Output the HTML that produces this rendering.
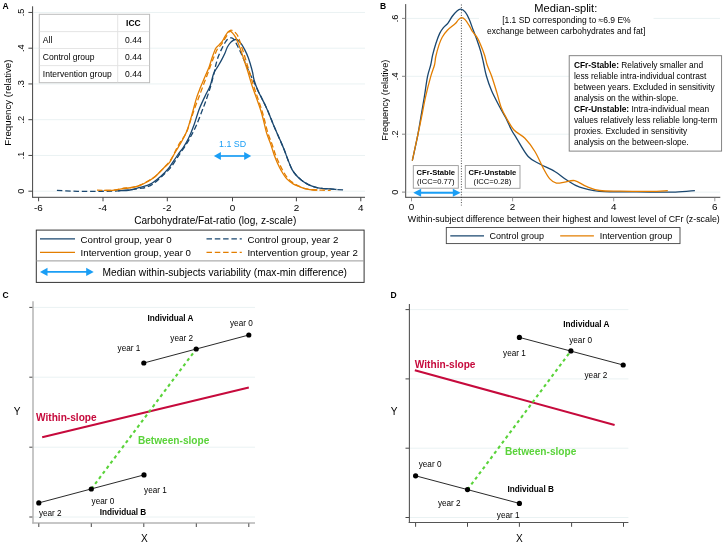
<!DOCTYPE html>
<html><head><meta charset="utf-8">
<style>
html,body{margin:0;padding:0;background:#fff;}
body{width:723px;height:545px;overflow:hidden;}
svg{display:block;font-family:"Liberation Sans",sans-serif;will-change:transform;}
text{fill:#000;}
.pl{font-weight:bold;font-size:8.5px;fill:#000;}
.plc{font-weight:bold;font-size:8.5px;fill:#000;}
.tk{font-size:9.2px;}
.tkx{font-size:9.9px;}
.t10{font-size:10.1px;}
.t96{font-size:9.7px;}
.t91{font-size:9.1px;}
.t84{font-size:8.37px;}
.lg9{font-size:9px;}
.t11{font-size:11.1px;}
.t88{font-size:8.85px;}
.t85{font-size:8.5px;}
.t8{font-size:7.65px;}
.t8b{font-size:7.6px;font-weight:bold;}
.bd{font-weight:bold;}
.tb{font-size:8.5px;font-weight:bold;fill:#000;}
.tt{font-size:8.55px;}
.lg{font-size:9.7px;}
.lg2{font-size:10.2px;}
.ib{font-size:8.2px;font-weight:bold;fill:#000;}
.yr{font-size:8.2px;}
.sl{font-size:10.15px;font-weight:bold;}
.ax{stroke:#444;stroke-width:1;}
</style></head>
<body>
<svg width="723" height="545" viewBox="0 0 723 545">
<rect width="723" height="545" fill="#fff"/>
<text x="2.6" y="9.1" class="pl">A</text>
<line x1="33.6" y1="191.20" x2="365" y2="191.20" stroke="#eaf2f3" stroke-width="1"/>
<line x1="33.6" y1="155.45" x2="365" y2="155.45" stroke="#eaf2f3" stroke-width="1"/>
<line x1="33.6" y1="119.70" x2="365" y2="119.70" stroke="#eaf2f3" stroke-width="1"/>
<line x1="33.6" y1="83.95" x2="365" y2="83.95" stroke="#eaf2f3" stroke-width="1"/>
<line x1="33.6" y1="48.20" x2="365" y2="48.20" stroke="#eaf2f3" stroke-width="1"/>
<line x1="33.6" y1="12.45" x2="365" y2="12.45" stroke="#eaf2f3" stroke-width="1"/>
<line x1="32.60" y1="6.30" x2="32.60" y2="197.80" class="ax"/>
<line x1="32.60" y1="197.30" x2="365.00" y2="197.30" class="ax"/>
<line x1="28.4" y1="191.20" x2="32.60" y2="191.20" class="ax"/>
<text transform="translate(24.3 191.20) rotate(-90)" class="tk" text-anchor="middle">0</text>
<line x1="28.4" y1="155.45" x2="32.60" y2="155.45" class="ax"/>
<text transform="translate(24.3 155.45) rotate(-90)" class="tk" text-anchor="middle">.1</text>
<line x1="28.4" y1="119.70" x2="32.60" y2="119.70" class="ax"/>
<text transform="translate(24.3 119.70) rotate(-90)" class="tk" text-anchor="middle">.2</text>
<line x1="28.4" y1="83.95" x2="32.60" y2="83.95" class="ax"/>
<text transform="translate(24.3 83.95) rotate(-90)" class="tk" text-anchor="middle">.3</text>
<line x1="28.4" y1="48.20" x2="32.60" y2="48.20" class="ax"/>
<text transform="translate(24.3 48.20) rotate(-90)" class="tk" text-anchor="middle">.4</text>
<line x1="28.4" y1="12.45" x2="32.60" y2="12.45" class="ax"/>
<text transform="translate(24.3 12.45) rotate(-90)" class="tk" text-anchor="middle">.5</text>
<line x1="38.60" y1="197.30" x2="38.60" y2="201.3" class="ax"/>
<text x="38.30" y="210.8" class="tkx" text-anchor="middle">-6</text>
<line x1="103.00" y1="197.30" x2="103.00" y2="201.3" class="ax"/>
<text x="102.70" y="210.8" class="tkx" text-anchor="middle">-4</text>
<line x1="167.30" y1="197.30" x2="167.30" y2="201.3" class="ax"/>
<text x="167.00" y="210.8" class="tkx" text-anchor="middle">-2</text>
<line x1="232.50" y1="197.30" x2="232.50" y2="201.3" class="ax"/>
<text x="232.50" y="210.8" class="tkx" text-anchor="middle">0</text>
<line x1="296.40" y1="197.30" x2="296.40" y2="201.3" class="ax"/>
<text x="296.40" y="210.8" class="tkx" text-anchor="middle">2</text>
<line x1="360.80" y1="197.30" x2="360.80" y2="201.3" class="ax"/>
<text x="360.80" y="210.8" class="tkx" text-anchor="middle">4</text>
<text x="215.2" y="223.6" class="t10" text-anchor="middle">Carbohydrate/Fat-ratio (log, z-scale)</text>
<text transform="translate(10.6 102.6) rotate(-90)" class="t96" text-anchor="middle">Frequency (relative)</text>
<path d="M56.90 190.40 C59.20 190.52 66.08 190.93 70.70 191.10 C75.32 191.27 79.98 191.37 84.60 191.40 C89.22 191.43 93.80 191.35 98.40 191.30 C103.00 191.25 107.58 191.28 112.20 191.10 C116.82 190.92 121.48 190.65 126.10 190.20 C130.72 189.75 136.73 188.83 139.90 188.40 C143.07 187.97 142.95 188.32 145.10 187.60 C147.25 186.88 150.02 185.97 152.80 184.10 C155.58 182.23 158.80 179.18 161.80 176.40 C164.80 173.62 168.02 170.83 170.80 167.40 C173.58 163.97 175.92 159.65 178.50 155.80 C181.08 151.95 184.15 147.72 186.30 144.30 C188.45 140.88 189.70 138.52 191.40 135.30 C193.10 132.08 194.77 128.97 196.50 125.00 C198.23 121.03 200.27 115.45 201.80 111.50 C203.33 107.55 204.20 105.58 205.70 101.30 C207.20 97.02 209.30 90.95 210.80 85.80 C212.30 80.65 213.87 73.87 214.70 70.40 C215.53 66.93 215.20 67.32 215.80 65.00 C216.40 62.68 217.33 59.15 218.30 56.50 C219.27 53.85 220.37 51.58 221.60 49.10 C222.83 46.62 224.45 43.40 225.70 41.60 C226.95 39.80 228.12 38.92 229.10 38.30 C230.08 37.68 230.78 37.70 231.60 37.90 C232.42 38.10 233.03 38.20 234.00 39.50 C234.97 40.80 236.28 43.55 237.40 45.70 C238.52 47.85 239.60 50.03 240.70 52.40 C241.80 54.77 242.95 57.47 244.00 59.90 C245.05 62.33 245.92 64.48 247.00 67.00 C248.08 69.52 249.33 72.50 250.50 75.00 C251.67 77.50 252.73 79.33 254.00 82.00 C255.27 84.67 256.77 88.22 258.10 91.00 C259.43 93.78 260.72 96.13 262.00 98.70 C263.28 101.27 264.52 103.62 265.80 106.40 C267.08 109.18 268.42 112.30 269.70 115.40 C270.98 118.50 271.77 120.88 273.50 125.00 C275.23 129.12 278.33 136.02 280.10 140.10 C281.87 144.18 282.77 146.15 284.10 149.50 C285.43 152.85 286.77 156.85 288.10 160.20 C289.43 163.55 290.75 167.10 292.10 169.60 C293.45 172.10 294.63 173.43 296.20 175.20 C297.77 176.97 299.62 178.72 301.50 180.20 C303.38 181.68 305.38 183.00 307.50 184.10 C309.62 185.20 311.85 186.08 314.20 186.80 C316.55 187.52 318.98 188.05 321.60 188.40 C324.22 188.75 327.42 188.72 329.90 188.90 C332.38 189.08 333.88 189.33 336.50 189.50 C339.12 189.67 344.08 189.83 345.60 189.90" fill="none" stroke="#1a476f" stroke-width="1.3" stroke-dasharray="5.5 2.8"/>
<path d="M118.00 190.80 C120.00 190.67 126.33 190.58 130.00 190.00 C133.67 189.42 136.62 188.28 140.00 187.30 C143.38 186.32 146.87 185.92 150.30 184.10 C153.73 182.28 157.60 178.97 160.60 176.40 C163.60 173.83 165.52 172.18 168.30 168.70 C171.08 165.22 174.73 159.15 177.30 155.50 C179.87 151.85 181.78 149.75 183.70 146.80 C185.62 143.85 187.08 141.43 188.80 137.80 C190.52 134.17 192.25 129.80 194.00 125.00 C195.75 120.20 197.35 114.03 199.30 109.00 C201.25 103.97 203.88 98.67 205.70 94.80 C207.52 90.93 208.92 89.22 210.20 85.80 C211.48 82.38 212.35 77.18 213.40 74.30 C214.45 71.42 215.62 70.05 216.50 68.50 C217.38 66.95 217.85 66.43 218.70 65.00 C219.55 63.57 220.57 61.87 221.60 59.90 C222.63 57.93 223.93 55.35 224.90 53.20 C225.87 51.05 226.43 48.80 227.40 47.00 C228.37 45.20 229.60 43.58 230.70 42.40 C231.80 41.22 233.17 40.38 234.00 39.90 C234.83 39.42 235.00 39.42 235.70 39.50 C236.40 39.58 237.23 39.63 238.20 40.40 C239.17 41.17 240.40 42.52 241.50 44.10 C242.60 45.68 243.68 47.68 244.80 49.90 C245.92 52.12 247.23 54.88 248.20 57.40 C249.17 59.92 249.88 62.57 250.60 65.00 C251.32 67.43 251.88 69.38 252.50 72.00 C253.12 74.62 253.37 77.53 254.30 80.70 C255.23 83.87 256.82 88.00 258.10 91.00 C259.38 94.00 260.72 96.13 262.00 98.70 C263.28 101.27 264.52 103.62 265.80 106.40 C267.08 109.18 268.42 112.30 269.70 115.40 C270.98 118.50 271.77 120.88 273.50 125.00 C275.23 129.12 278.33 136.02 280.10 140.10 C281.87 144.18 282.77 146.15 284.10 149.50 C285.43 152.85 286.77 156.85 288.10 160.20 C289.43 163.55 290.75 167.10 292.10 169.60 C293.45 172.10 294.63 173.43 296.20 175.20 C297.77 176.97 299.62 178.72 301.50 180.20 C303.38 181.68 305.38 183.00 307.50 184.10 C309.62 185.20 311.85 186.08 314.20 186.80 C316.55 187.52 318.98 188.05 321.60 188.40 C324.22 188.75 327.42 188.72 329.90 188.90 C332.38 189.08 335.40 189.40 336.50 189.50" fill="none" stroke="#1a476f" stroke-width="1.3"/>
<path d="M97.00 190.20 C99.53 190.22 108.05 190.57 112.20 190.30 C116.35 190.03 118.43 189.12 121.90 188.60 C125.37 188.08 129.98 187.77 133.00 187.20 C136.02 186.63 137.55 186.18 140.00 185.20 C142.45 184.22 145.13 182.80 147.70 181.30 C150.27 179.80 152.83 178.33 155.40 176.20 C157.97 174.07 160.53 171.25 163.10 168.50 C165.67 165.75 168.23 163.62 170.80 159.70 C173.37 155.78 175.92 149.50 178.50 145.00 C181.08 140.50 184.23 137.00 186.30 132.70 C188.37 128.40 189.38 123.58 190.90 119.20 C192.42 114.82 194.00 110.25 195.40 106.40 C196.80 102.55 198.02 99.53 199.30 96.10 C200.58 92.67 201.82 89.22 203.10 85.80 C204.38 82.38 205.72 79.07 207.00 75.60 C208.28 72.13 209.62 68.18 210.80 65.00 C211.98 61.82 213.00 59.15 214.10 56.50 C215.20 53.85 216.15 51.17 217.40 49.10 C218.65 47.03 220.22 46.05 221.60 44.10 C222.98 42.15 224.32 39.62 225.70 37.40 C227.08 35.18 228.85 31.97 229.90 30.80 C230.95 29.63 231.17 30.18 232.00 30.40 C232.83 30.62 233.87 31.07 234.90 32.10 C235.93 33.13 237.23 34.60 238.20 36.60 C239.17 38.60 239.73 41.20 240.70 44.10 C241.67 47.00 242.90 50.52 244.00 54.00 C245.10 57.48 246.38 62.00 247.30 65.00 C248.22 68.00 248.52 68.73 249.50 72.00 C250.48 75.27 251.87 80.37 253.20 84.60 C254.53 88.83 256.07 93.13 257.50 97.40 C258.93 101.67 260.63 106.43 261.80 110.20 C262.97 113.97 263.47 116.13 264.50 120.00 C265.53 123.87 266.75 129.38 268.00 133.40 C269.25 137.42 270.75 140.53 272.00 144.10 C273.25 147.67 274.33 151.67 275.50 154.80 C276.67 157.93 277.75 160.22 279.00 162.90 C280.25 165.58 281.45 168.23 283.00 170.90 C284.55 173.57 286.30 176.72 288.30 178.90 C290.30 181.08 292.38 182.43 295.00 184.00 C297.62 185.57 300.67 187.30 304.00 188.30 C307.33 189.30 312.00 189.68 315.00 190.00 C318.00 190.32 319.38 190.13 322.00 190.20 C324.62 190.27 329.25 190.37 330.70 190.40" fill="none" stroke="#e37e00" stroke-width="1.3" stroke-dasharray="5.5 2.8"/>
<path d="M104.00 190.40 C105.37 190.40 109.22 190.67 112.20 190.40 C115.18 190.13 118.43 189.30 121.90 188.80 C125.37 188.30 129.98 187.97 133.00 187.40 C136.02 186.83 137.55 186.38 140.00 185.40 C142.45 184.42 145.13 183.00 147.70 181.50 C150.27 180.00 152.83 178.53 155.40 176.40 C157.97 174.27 160.73 171.05 163.10 168.70 C165.47 166.35 167.88 164.50 169.60 162.30 C171.32 160.10 171.92 158.08 173.40 155.50 C174.88 152.92 176.78 149.75 178.50 146.80 C180.22 143.85 182.15 140.85 183.70 137.80 C185.25 134.75 186.28 132.88 187.80 128.50 C189.32 124.12 191.32 116.68 192.80 111.50 C194.28 106.32 195.40 101.47 196.70 97.40 C198.00 93.33 199.32 90.32 200.60 87.10 C201.88 83.88 203.12 81.10 204.40 78.10 C205.68 75.10 207.40 71.28 208.30 69.10 C209.20 66.92 209.10 67.10 209.80 65.00 C210.50 62.90 211.50 59.30 212.50 56.50 C213.50 53.70 214.70 50.13 215.80 48.20 C216.90 46.27 218.00 46.07 219.10 44.90 C220.20 43.73 221.43 42.58 222.40 41.20 C223.37 39.82 224.00 38.12 224.90 36.60 C225.80 35.08 226.97 33.00 227.80 32.10 C228.63 31.20 229.13 31.07 229.90 31.20 C230.67 31.33 231.43 31.87 232.40 32.90 C233.37 33.93 234.73 35.67 235.70 37.40 C236.67 39.13 237.37 41.22 238.20 43.30 C239.03 45.38 239.73 47.13 240.70 49.90 C241.67 52.67 243.17 57.38 244.00 59.90 C244.83 62.42 245.03 62.98 245.70 65.00 C246.37 67.02 247.00 68.73 248.00 72.00 C249.00 75.27 250.33 80.37 251.70 84.60 C253.07 88.83 254.70 93.13 256.20 97.40 C257.70 101.67 259.52 106.50 260.70 110.20 C261.88 113.90 262.30 115.73 263.30 119.60 C264.30 123.47 265.47 129.32 266.70 133.40 C267.93 137.48 269.47 140.53 270.70 144.10 C271.93 147.67 272.98 151.67 274.10 154.80 C275.22 157.93 276.18 160.22 277.40 162.90 C278.62 165.58 279.83 168.23 281.40 170.90 C282.97 173.57 284.78 176.70 286.80 178.90 C288.82 181.10 291.30 182.78 293.50 184.10 C295.70 185.42 298.08 186.05 300.00 186.80 C301.92 187.55 303.07 188.10 305.00 188.60 C306.93 189.10 309.53 189.57 311.60 189.80 C313.67 190.03 316.43 189.97 317.40 190.00" fill="none" stroke="#e37e00" stroke-width="1.3"/>
<text x="232.6" y="146.8" class="t88" text-anchor="middle" style="fill:#1a9ef5">1.1 SD</text>
<line x1="219.90" y1="156.00" x2="245.20" y2="156.00" stroke="#1a9ef5" stroke-width="1.70"/><path d="M213.90 156.00 L220.90 152.10 L220.90 159.90 Z" fill="#1a9ef5"/><path d="M251.20 156.00 L244.20 152.10 L244.20 159.90 Z" fill="#1a9ef5"/>
<rect x="39.3" y="14.3" width="110.3" height="68.4" fill="#fff" stroke="#bcbcbc" stroke-width="1"/>
<line x1="39.7" y1="31.6" x2="149.2" y2="31.6" stroke="#e2e2e2" stroke-width="0.9"/>
<line x1="39.7" y1="48.5" x2="149.2" y2="48.5" stroke="#e2e2e2" stroke-width="0.9"/>
<line x1="39.7" y1="65.6" x2="149.2" y2="65.6" stroke="#e2e2e2" stroke-width="0.9"/>
<line x1="117.7" y1="14.7" x2="117.7" y2="82.3" stroke="#e2e2e2" stroke-width="0.9"/>
<text x="133.4" y="26.3" class="tb" text-anchor="middle">ICC</text>
<text x="42.8" y="43.2" class="tt">All</text>
<text x="133.4" y="43.2" class="tt" text-anchor="middle">0.44</text>
<text x="42.8" y="60.2" class="tt">Control group</text>
<text x="133.4" y="60.2" class="tt" text-anchor="middle">0.44</text>
<text x="42.8" y="77.2" class="tt">Intervention group</text>
<text x="133.4" y="77.2" class="tt" text-anchor="middle">0.44</text>
<rect x="36.3" y="230.1" width="327.8" height="52.3" fill="none" stroke="#333" stroke-width="1"/>
<line x1="36.3" y1="260.9" x2="364.1" y2="260.9" stroke="#999" stroke-width="1"/>
<line x1="40" y1="238.8" x2="75" y2="238.8" stroke="#1a476f" stroke-width="1.2"/>
<line x1="40" y1="252.4" x2="75" y2="252.4" stroke="#e37e00" stroke-width="1.2"/>
<line x1="206.5" y1="238.8" x2="241.8" y2="238.8" stroke="#1a476f" stroke-width="1.2" stroke-dasharray="5.5 2.8"/>
<line x1="206.5" y1="252.4" x2="241.8" y2="252.4" stroke="#e37e00" stroke-width="1.2" stroke-dasharray="5.5 2.8"/>
<text x="80.6" y="242.6" class="lg">Control group, year 0</text>
<text x="80.6" y="256.1" class="lg">Intervention group, year 0</text>
<text x="247.4" y="242.6" class="lg">Control group, year 2</text>
<text x="247.4" y="256.1" class="lg">Intervention group, year 2</text>
<line x1="46.50" y1="271.90" x2="87.20" y2="271.90" stroke="#1a9ef5" stroke-width="1.90"/><path d="M40.00 271.90 L47.50 267.70 L47.50 276.10 Z" fill="#1a9ef5"/><path d="M93.70 271.90 L86.20 267.70 L86.20 276.10 Z" fill="#1a9ef5"/>
<text x="102.6" y="275.5" class="lg2">Median within-subjects variability (max-min difference)</text>
<text x="380.0" y="9.1" class="pl">B</text>
<line x1="406.7" y1="192.10" x2="720.0" y2="192.10" stroke="#eaf2f3" stroke-width="1"/>
<line x1="406.7" y1="134.20" x2="720.0" y2="134.20" stroke="#eaf2f3" stroke-width="1"/>
<line x1="406.7" y1="76.30" x2="720.0" y2="76.30" stroke="#eaf2f3" stroke-width="1"/>
<line x1="406.7" y1="18.40" x2="720.0" y2="18.40" stroke="#eaf2f3" stroke-width="1"/>
<line x1="405.70" y1="4.1" x2="405.70" y2="197.8" class="ax"/>
<line x1="405.70" y1="197.3" x2="720.3" y2="197.3" class="ax"/>
<line x1="402" y1="192.10" x2="405.30" y2="192.10" stroke="#888" stroke-width="1"/>
<text transform="translate(398.4 192.10) rotate(-90)" class="tk" text-anchor="middle">0</text>
<line x1="402" y1="134.20" x2="405.30" y2="134.20" stroke="#888" stroke-width="1"/>
<text transform="translate(398.4 134.20) rotate(-90)" class="tk" text-anchor="middle">.2</text>
<line x1="402" y1="76.30" x2="405.30" y2="76.30" stroke="#888" stroke-width="1"/>
<text transform="translate(398.4 76.30) rotate(-90)" class="tk" text-anchor="middle">.4</text>
<line x1="402" y1="18.40" x2="405.30" y2="18.40" stroke="#888" stroke-width="1"/>
<text transform="translate(398.4 18.40) rotate(-90)" class="tk" text-anchor="middle">.6</text>
<line x1="411.50" y1="197.8" x2="411.50" y2="201.3" stroke="#999" stroke-width="1"/>
<text x="411.50" y="209.8" class="tkx" text-anchor="middle">0</text>
<line x1="512.60" y1="197.8" x2="512.60" y2="201.3" stroke="#999" stroke-width="1"/>
<text x="512.60" y="209.8" class="tkx" text-anchor="middle">2</text>
<line x1="613.70" y1="197.8" x2="613.70" y2="201.3" stroke="#999" stroke-width="1"/>
<text x="613.70" y="209.8" class="tkx" text-anchor="middle">4</text>
<line x1="714.80" y1="197.8" x2="714.80" y2="201.3" stroke="#999" stroke-width="1"/>
<text x="714.80" y="209.8" class="tkx" text-anchor="middle">6</text>
<text x="563.8" y="221.9" class="t88" text-anchor="middle">Within-subject difference between their highest and lowest level of CFr (z-scale)</text>
<text transform="translate(387.6 100.2) rotate(-90)" class="t91" text-anchor="middle">Frequency (relative)</text>
<line x1="461.4" y1="4.5" x2="461.4" y2="205.5" stroke="#333" stroke-width="0.9" stroke-dasharray="1 1.6"/>
<path d="M412.30 160.70 C413.22 156.42 416.35 142.38 417.80 135.00 C419.25 127.62 419.92 122.72 421.00 116.40 C422.08 110.08 423.22 103.73 424.30 97.10 C425.38 90.47 426.43 81.95 427.50 76.60 C428.57 71.25 429.85 68.57 430.70 65.00 C431.55 61.43 431.75 58.75 432.60 55.20 C433.45 51.65 434.62 47.33 435.80 43.70 C436.98 40.07 438.42 36.08 439.70 33.40 C440.98 30.72 442.12 29.32 443.50 27.60 C444.88 25.88 446.50 25.03 448.00 23.10 C449.50 21.17 451.00 18.03 452.50 16.00 C454.00 13.97 455.62 12.03 457.00 10.90 C458.38 9.77 459.42 8.98 460.80 9.20 C462.18 9.42 463.90 10.52 465.30 12.20 C466.70 13.88 467.92 16.42 469.20 19.30 C470.48 22.18 471.72 26.08 473.00 29.50 C474.28 32.92 475.62 36.15 476.90 39.80 C478.18 43.45 479.63 47.70 480.70 51.40 C481.77 55.10 482.35 57.90 483.30 62.00 C484.25 66.10 485.02 71.20 486.40 76.00 C487.78 80.80 489.45 85.77 491.60 90.80 C493.75 95.83 496.95 101.70 499.30 106.20 C501.65 110.70 503.67 113.83 505.70 117.80 C507.73 121.77 509.68 126.58 511.50 130.00 C513.32 133.42 513.82 133.88 516.60 138.30 C519.38 142.72 524.33 152.22 528.20 156.50 C532.07 160.78 535.37 161.50 539.80 164.00 C544.23 166.50 550.37 168.87 554.80 171.50 C559.23 174.13 562.25 177.18 566.40 179.80 C570.55 182.42 574.17 185.27 579.70 187.20 C585.23 189.13 592.88 190.63 599.60 191.40 C606.32 192.17 611.60 191.70 620.00 191.80 C628.40 191.90 640.77 191.95 650.00 192.00 C659.23 192.05 667.92 192.33 675.40 192.10 C682.88 191.87 691.65 190.85 694.90 190.60" fill="none" stroke="#1a476f" stroke-width="1.3"/>
<path d="M412.30 160.70 C413.22 156.42 416.23 142.38 417.80 135.00 C419.37 127.62 420.42 122.72 421.70 116.40 C422.98 110.08 424.00 103.73 425.50 97.10 C427.00 90.47 429.20 81.95 430.70 76.60 C432.20 71.25 433.65 68.35 434.50 65.00 C435.35 61.65 435.05 59.85 435.80 56.50 C436.55 53.15 437.93 48.12 439.00 44.90 C440.07 41.68 440.80 39.65 442.20 37.20 C443.60 34.75 445.25 32.43 447.40 30.20 C449.55 27.97 453.28 25.52 455.10 23.80 C456.92 22.08 457.23 20.92 458.30 19.90 C459.37 18.88 460.33 17.70 461.50 17.70 C462.67 17.70 464.02 18.57 465.30 19.90 C466.58 21.23 468.02 23.77 469.20 25.70 C470.38 27.63 471.12 29.58 472.40 31.50 C473.68 33.42 475.52 34.97 476.90 37.20 C478.28 39.43 479.42 41.90 480.70 44.90 C481.98 47.90 483.52 51.85 484.60 55.20 C485.68 58.55 486.03 61.53 487.20 65.00 C488.37 68.47 490.02 71.48 491.60 76.00 C493.18 80.52 495.10 86.85 496.70 92.10 C498.30 97.35 499.60 103.22 501.20 107.50 C502.80 111.78 504.17 114.05 506.30 117.80 C508.43 121.55 510.90 126.58 514.00 130.00 C517.10 133.42 521.42 134.72 524.90 138.30 C528.38 141.88 531.85 146.53 534.90 151.50 C537.95 156.47 540.72 163.53 543.20 168.10 C545.68 172.67 547.60 176.40 549.80 178.90 C552.00 181.40 553.92 182.55 556.40 183.10 C558.88 183.65 561.65 182.62 564.70 182.20 C567.75 181.78 571.10 179.90 574.70 180.60 C578.30 181.30 582.15 184.75 586.30 186.40 C590.45 188.05 593.98 189.70 599.60 190.50 C605.22 191.30 611.60 191.05 620.00 191.20 C628.40 191.35 642.03 191.50 650.00 191.40 C657.97 191.30 664.83 190.73 667.80 190.60" fill="none" stroke="#e37e00" stroke-width="1.3"/>
<rect x="479" y="2" width="174.5" height="34" fill="#fff"/>
<text x="565.8" y="12.2" class="t11" text-anchor="middle">Median-split:</text>
<text x="566.4" y="23.0" class="t85" text-anchor="middle">[1.1 SD corresponding to ≈6.9 E%</text>
<text x="566.2" y="33.9" class="t85" text-anchor="middle">exchange between carbohydrates and fat]</text>
<rect x="569.2" y="55.7" width="152.4" height="95.4" fill="#fff" stroke="#777" stroke-width="0.9"/>
<text x="573.9" y="67.8" class="t84"><tspan class="bd">CFr-Stable:</tspan> Relatively smaller and</text>
<text x="573.9" y="78.8" class="t84">less reliable intra-individual contrast</text>
<text x="573.9" y="89.8" class="t84">between years. Excluded in sensitivity</text>
<text x="573.9" y="100.8" class="t84">analysis on the within-slope.</text>
<text x="573.9" y="111.8" class="t84"><tspan class="bd">CFr-Unstable:</tspan> Intra-individual mean</text>
<text x="573.9" y="122.8" class="t84">values relatively less reliable long-term</text>
<text x="573.9" y="133.8" class="t84">proxies. Excluded in sensitivity</text>
<text x="573.9" y="144.8" class="t84">analysis on the between-slope.</text>
<rect x="413.3" y="165.6" width="45" height="22.6" fill="#fff" stroke="#999" stroke-width="0.9"/>
<text x="435.8" y="175.1" class="t8b" text-anchor="middle">CFr-Stable</text>
<text x="435.8" y="184.0" class="t8" text-anchor="middle">(ICC=0.77)</text>
<rect x="465.3" y="165.5" width="54.7" height="22.8" fill="#fff" stroke="#999" stroke-width="0.9"/>
<text x="492.4" y="175.1" class="t8b" text-anchor="middle">CFr-Unstable</text>
<text x="492.4" y="184.0" class="t8" text-anchor="middle">(ICC=0.28)</text>
<line x1="420.10" y1="192.70" x2="453.80" y2="192.70" stroke="#1a9ef5" stroke-width="1.90"/><path d="M413.30 192.70 L421.10 188.70 L421.10 196.70 Z" fill="#1a9ef5"/><path d="M460.60 192.70 L452.80 188.70 L452.80 196.70 Z" fill="#1a9ef5"/>
<rect x="446.3" y="227.5" width="233.7" height="16.1" fill="none" stroke="#444" stroke-width="0.9"/>
<line x1="450.3" y1="235.8" x2="484" y2="235.8" stroke="#1a476f" stroke-width="1.2"/>
<line x1="560.2" y1="235.8" x2="593.9" y2="235.8" stroke="#e37e00" stroke-width="1.2"/>
<text x="489.6" y="239.1" class="lg9">Control group</text>
<text x="599.8" y="239.1" class="lg9">Intervention group</text>
<text x="2.5" y="297.9" class="plc">C</text>
<line x1="34" y1="307.4" x2="255" y2="307.4" stroke="#eaf2f3" stroke-width="1"/>
<line x1="29.3" y1="307.4" x2="33" y2="307.4" stroke="#333" stroke-width="0.9"/>
<line x1="34" y1="377.2" x2="255" y2="377.2" stroke="#eaf2f3" stroke-width="1"/>
<line x1="29.3" y1="377.2" x2="33" y2="377.2" stroke="#333" stroke-width="0.9"/>
<line x1="34" y1="447.2" x2="255" y2="447.2" stroke="#eaf2f3" stroke-width="1"/>
<line x1="29.3" y1="447.2" x2="33" y2="447.2" stroke="#333" stroke-width="0.9"/>
<line x1="34" y1="517.0" x2="255" y2="517.0" stroke="#eaf2f3" stroke-width="1"/>
<line x1="29.3" y1="517.0" x2="33" y2="517.0" stroke="#333" stroke-width="0.9"/>
<line x1="33" y1="301.2" x2="33" y2="523.5" stroke="#b4b4b4" stroke-width="1.5"/>
<line x1="32.3" y1="522.9" x2="255" y2="522.9" stroke="#b4b4b4" stroke-width="1.5"/>
<line x1="38.8" y1="523.4" x2="38.8" y2="527" stroke="#333" stroke-width="0.9"/>
<line x1="91.3" y1="523.4" x2="91.3" y2="527" stroke="#333" stroke-width="0.9"/>
<line x1="143.8" y1="523.4" x2="143.8" y2="527" stroke="#333" stroke-width="0.9"/>
<line x1="196.3" y1="523.4" x2="196.3" y2="527" stroke="#333" stroke-width="0.9"/>
<line x1="248.8" y1="523.4" x2="248.8" y2="527" stroke="#333" stroke-width="0.9"/>
<text x="144.4" y="541.9" class="t10" text-anchor="middle">X</text>
<text x="17" y="414.8" class="t10" text-anchor="middle">Y</text>
<line x1="42.2" y1="437.3" x2="248.8" y2="387.5" stroke="#c60a3c" stroke-width="2"/>
<line x1="91.3" y1="489.0" x2="196.2" y2="349" stroke="#5ad33a" stroke-width="2.1" stroke-dasharray="3.2 3.2"/>
<line x1="143.8" y1="363" x2="248.8" y2="335.0" stroke="#111" stroke-width="0.9"/>
<line x1="38.8" y1="502.9" x2="144.0" y2="474.9" stroke="#111" stroke-width="0.9"/>
<circle cx="143.8" cy="363.0" r="2.6" fill="#000"/>
<circle cx="196.2" cy="349.0" r="2.6" fill="#000"/>
<circle cx="248.8" cy="335.0" r="2.6" fill="#000"/>
<circle cx="38.8" cy="502.9" r="2.6" fill="#000"/>
<circle cx="91.3" cy="489.0" r="2.6" fill="#000"/>
<circle cx="144.0" cy="474.9" r="2.6" fill="#000"/>
<text x="170.5" y="321" class="ib" text-anchor="middle">Individual A</text>
<text x="241.4" y="326" class="yr" text-anchor="middle">year 0</text>
<text x="181.7" y="340.5" class="yr" text-anchor="middle">year 2</text>
<text x="129" y="351.3" class="yr" text-anchor="middle">year 1</text>
<text x="36" y="420.5" class="sl" style="fill:#c60a3c">Within-slope</text>
<text x="137.9" y="443.6" class="sl" style="fill:#5ad33a">Between-slope</text>
<text x="103" y="503.7" class="yr" text-anchor="middle">year 0</text>
<text x="155.5" y="492.9" class="yr" text-anchor="middle">year 1</text>
<text x="50.3" y="515.9" class="yr" text-anchor="middle">year 2</text>
<text x="123" y="514.8" class="ib" text-anchor="middle">Individual B</text>
<text x="390.4" y="298.3" class="plc">D</text>
<line x1="410" y1="309.6" x2="628.4" y2="309.6" stroke="#eaf2f3" stroke-width="1"/>
<line x1="405.5" y1="309.6" x2="409.2" y2="309.6" stroke="#333" stroke-width="0.9"/>
<line x1="410" y1="378.9" x2="628.4" y2="378.9" stroke="#eaf2f3" stroke-width="1"/>
<line x1="405.5" y1="378.9" x2="409.2" y2="378.9" stroke="#333" stroke-width="0.9"/>
<line x1="410" y1="448.2" x2="628.4" y2="448.2" stroke="#eaf2f3" stroke-width="1"/>
<line x1="405.5" y1="448.2" x2="409.2" y2="448.2" stroke="#333" stroke-width="0.9"/>
<line x1="410" y1="517.5" x2="628.4" y2="517.5" stroke="#eaf2f3" stroke-width="1"/>
<line x1="405.5" y1="517.5" x2="409.2" y2="517.5" stroke="#333" stroke-width="0.9"/>
<line x1="409.4" y1="304.1" x2="409.4" y2="523" stroke="#555" stroke-width="1.1"/>
<line x1="408.7" y1="522.5" x2="628.4" y2="522.5" stroke="#555" stroke-width="1.1"/>
<line x1="415.6" y1="523" x2="415.6" y2="526.8" stroke="#333" stroke-width="0.9"/>
<line x1="467.5" y1="523" x2="467.5" y2="526.8" stroke="#333" stroke-width="0.9"/>
<line x1="519.4" y1="523" x2="519.4" y2="526.8" stroke="#333" stroke-width="0.9"/>
<line x1="571.6" y1="523" x2="571.6" y2="526.8" stroke="#333" stroke-width="0.9"/>
<line x1="623.5" y1="523" x2="623.5" y2="526.8" stroke="#333" stroke-width="0.9"/>
<text x="519.4" y="541.6" class="t10" text-anchor="middle">X</text>
<text x="394" y="414.8" class="t10" text-anchor="middle">Y</text>
<line x1="414.8" y1="370.3" x2="614.6" y2="425" stroke="#c60a3c" stroke-width="2"/>
<line x1="467.5" y1="489.6" x2="570.9" y2="350.9" stroke="#5ad33a" stroke-width="2.1" stroke-dasharray="3.2 3.2"/>
<line x1="519.4" y1="337.4" x2="623.2" y2="365" stroke="#111" stroke-width="0.9"/>
<line x1="415.6" y1="475.8" x2="519.4" y2="503.4" stroke="#111" stroke-width="0.9"/>
<circle cx="519.4" cy="337.4" r="2.6" fill="#000"/>
<circle cx="570.9" cy="350.9" r="2.6" fill="#000"/>
<circle cx="623.2" cy="365.0" r="2.6" fill="#000"/>
<circle cx="415.6" cy="475.8" r="2.6" fill="#000"/>
<circle cx="467.5" cy="489.6" r="2.6" fill="#000"/>
<circle cx="519.4" cy="503.4" r="2.6" fill="#000"/>
<text x="586.4" y="327.4" class="ib" text-anchor="middle">Individual A</text>
<text x="580.6" y="342.7" class="yr" text-anchor="middle">year 0</text>
<text x="514.5" y="355.7" class="yr" text-anchor="middle">year 1</text>
<text x="595.9" y="378.1" class="yr" text-anchor="middle">year 2</text>
<text x="414.8" y="367.6" class="sl" style="fill:#c60a3c">Within-slope</text>
<text x="504.9" y="455.2" class="sl" style="fill:#5ad33a">Between-slope</text>
<text x="430.1" y="466.5" class="yr" text-anchor="middle">year 0</text>
<text x="449.3" y="506.4" class="yr" text-anchor="middle">year 2</text>
<text x="508.2" y="517.6" class="yr" text-anchor="middle">year 1</text>
<text x="530.7" y="491.5" class="ib" text-anchor="middle">Individual B</text>
</svg>
</body></html>
